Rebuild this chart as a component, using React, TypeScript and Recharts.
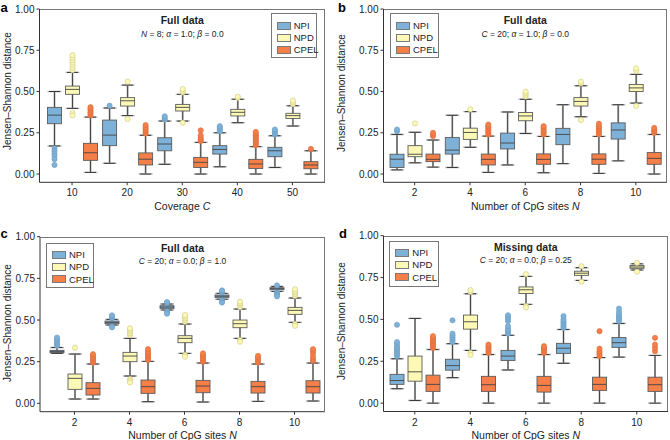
import React from "react";
import { ComposedChart, Bar, XAxis, YAxis } from "recharts";

const FONT = '"Liberation Sans", Arial, Helvetica, sans-serif';

// box stats: [whiskerLow, q1, median, q3, whiskerHigh]
const catsA = ["10", "20", "30", "40", "50"];
const catsN = ["2", "4", "6", "8", "10"];
const yTicks = [0, 0.25, 0.5, 0.75, 1];

// panel a: full data, N = 8
const aNpi = [
  [0.17, 0.305, 0.357, 0.404, 0.5],
  [0.065, 0.172, 0.236, 0.327, 0.4],
  [0.059, 0.141, 0.182, 0.22, 0.321],
  [0.044, 0.121, 0.149, 0.172, 0.25],
  [0.04, 0.105, 0.141, 0.162, 0.232],
];
const aNpiOut = [
  [0.155, 0.14, 0.125, 0.11, 0.09, 0.055],
  [0.414],
  [0.33, 0.34, 0.35],
  [0.26, 0.27, 0.28, 0.29],
  [0.24, 0.25, 0.26, 0.27],
];
const aNpd = [
  [0.398, 0.483, 0.513, 0.533, 0.616],
  [0.354, 0.412, 0.444, 0.463, 0.539],
  [0.321, 0.382, 0.404, 0.422, 0.483],
  [0.311, 0.352, 0.374, 0.392, 0.453],
  [0.291, 0.337, 0.354, 0.368, 0.414],
];
const aNpdOut = [
  [0.63, 0.645, 0.66, 0.675, 0.69, 0.705, 0.72, 0.37, 0.355],
  [0.56, 0.333],
  [0.495, 0.505, 0.515, 0.311],
  [0.462, 0.468],
  [0.425, 0.435, 0.445],
];
const aCpel = [
  [0.01, 0.083, 0.129, 0.186, 0.345],
  [0.0, 0.055, 0.09, 0.128, 0.235],
  [0.0, 0.04, 0.071, 0.101, 0.192],
  [0.0, 0.034, 0.061, 0.089, 0.166],
  [0.0, 0.032, 0.055, 0.075, 0.141],
];
const aCpelOut = [
  [0.355, 0.365, 0.375, 0.385, 0.395, 0.405],
  [0.245, 0.255, 0.265, 0.275, 0.285, 0.297],
  [0.2, 0.21, 0.22, 0.235, 0.265],
  [0.175, 0.185, 0.195, 0.205, 0.215, 0.225, 0.235, 0.245, 0.255],
  [0.152],
];

// panel b: full data, C = 20, alpha 1, beta 0
const bNpi = [
  [0.025, 0.04, 0.09, 0.12, 0.24],
  [0.04, 0.121, 0.145, 0.222, 0.356],
  [0.055, 0.152, 0.188, 0.248, 0.376],
  [0.063, 0.178, 0.24, 0.277, 0.42],
  [0.08, 0.212, 0.267, 0.31, 0.42],
];
const bNpiOut = [[0.26, 0.27], [], [], [], []];
const bNpd = [
  [0.068, 0.105, 0.12, 0.172, 0.253],
  [0.162, 0.21, 0.252, 0.278, 0.378],
  [0.246, 0.323, 0.352, 0.373, 0.453],
  [0.347, 0.412, 0.44, 0.463, 0.535],
  [0.43, 0.5, 0.522, 0.543, 0.604],
];
const bNpdOut = [
  [0.307],
  [0.392],
  [0.47, 0.48, 0.49, 0.5],
  [0.55, 0.56, 0.327],
  [0.625, 0.64, 0.413],
];
const bCpel = [
  [0.042, 0.075, 0.089, 0.121, 0.206],
  [0.01, 0.055, 0.089, 0.121, 0.23],
  [0.008, 0.059, 0.089, 0.122, 0.228],
  [0.004, 0.059, 0.09, 0.122, 0.228],
  [0.0, 0.059, 0.095, 0.13, 0.24],
];
const bCpelOut = [
  [0.23, 0.24, 0.25],
  [0.24, 0.25, 0.26, 0.27, 0.28, 0.29, 0.3],
  [0.24, 0.25, 0.26, 0.27, 0.28, 0.29],
  [0.24, 0.25, 0.26, 0.27, 0.28, 0.29, 0.305],
  [0.25, 0.26, 0.27, 0.28],
];

// panel c: full data, C = 20, alpha 0, beta 1
const cNpi = [
  [0.3, 0.305, 0.312, 0.318, 0.335],
  [0.47, 0.478, 0.486, 0.494, 0.504],
  [0.56, 0.57, 0.578, 0.586, 0.596],
  [0.625, 0.636, 0.643, 0.65, 0.66],
  [0.672, 0.682, 0.688, 0.694, 0.702],
];
const cNpiOut = [
  [0.345, 0.355, 0.365, 0.375, 0.385, 0.395],
  [0.512, 0.52, 0.528, 0.462, 0.456],
  [0.602, 0.608, 0.552, 0.545, 0.538],
  [0.666, 0.672, 0.678, 0.618, 0.612, 0.605],
  [0.708, 0.665, 0.658, 0.65, 0.642],
];
const cNpd = [
  [0.026, 0.084, 0.15, 0.176, 0.296],
  [0.164, 0.25, 0.284, 0.306, 0.39],
  [0.3, 0.364, 0.39, 0.406, 0.476],
  [0.39, 0.454, 0.478, 0.5, 0.566],
  [0.486, 0.534, 0.558, 0.576, 0.632],
];
const cNpdOut = [
  [0.334],
  [0.41, 0.42, 0.43, 0.44, 0.45, 0.145, 0.135, 0.125],
  [0.49, 0.5, 0.51, 0.52, 0.53, 0.29, 0.28],
  [0.578, 0.59, 0.6, 0.61, 0.38, 0.37],
  [0.645, 0.655, 0.665, 0.675, 0.685, 0.475, 0.465],
];
const cCpel = [
  [0.026, 0.05, 0.09, 0.124, 0.236],
  [0.01, 0.06, 0.1, 0.14, 0.252],
  [0.008, 0.064, 0.104, 0.138, 0.242],
  [0.012, 0.062, 0.1, 0.132, 0.236],
  [0.014, 0.062, 0.1, 0.136, 0.242],
];
const cCpelOut = [
  [0.245, 0.255, 0.265, 0.275, 0.285, 0.295],
  [0.26, 0.27, 0.28, 0.29, 0.3, 0.31, 0.325],
  [0.25, 0.26, 0.27, 0.28, 0.29, 0.3],
  [0.245, 0.255, 0.265, 0.275, 0.285],
  [0.255, 0.265, 0.28, 0.3, 0.315, 0.325],
];

// panel d: missing data, C = 20, alpha 0, beta 0.25
const dNpi = [
  [0.086, 0.112, 0.135, 0.172, 0.265],
  [0.152, 0.197, 0.224, 0.262, 0.355],
  [0.198, 0.255, 0.281, 0.315, 0.405],
  [0.238, 0.297, 0.328, 0.357, 0.44],
  [0.275, 0.333, 0.361, 0.392, 0.476],
];
const dNpiOut = [
  [0.28, 0.29, 0.3, 0.31, 0.32, 0.33, 0.34, 0.355, 0.365, 0.468],
  [0.365, 0.375, 0.385, 0.395, 0.405, 0.415, 0.495],
  [0.415, 0.425, 0.435, 0.445, 0.46, 0.49, 0.505, 0.515, 0.525],
  [0.45, 0.46, 0.47, 0.48, 0.49, 0.5, 0.52],
  [0.49, 0.5, 0.51, 0.52, 0.53, 0.545, 0.565],
];
const dNpd = [
  [0.016, 0.131, 0.187, 0.281, 0.506],
  [0.315, 0.442, 0.486, 0.526, 0.653],
  [0.59, 0.655, 0.677, 0.694, 0.757],
  [0.733, 0.763, 0.776, 0.788, 0.809],
  [0.795, 0.805, 0.813, 0.822, 0.832],
];
const dNpdOut = [[], [0.665, 0.675, 0.3, 0.288], [0.77, 0.58, 0.572], [0.818, 0.725], [0.838, 0.785]];
const dCpel = [
  [0.0, 0.07, 0.112, 0.167, 0.32],
  [0.0, 0.07, 0.11, 0.16, 0.29],
  [0.0, 0.066, 0.106, 0.16, 0.29],
  [0.0, 0.076, 0.112, 0.155, 0.272],
  [0.0, 0.07, 0.11, 0.155, 0.285],
];
const dCpelOut = [
  [0.33, 0.34, 0.35, 0.36, 0.37, 0.38, 0.39, 0.4],
  [0.3, 0.31, 0.32, 0.33, 0.34, 0.35],
  [0.3, 0.31, 0.32, 0.33, 0.34],
  [0.28, 0.29, 0.3, 0.31, 0.325, 0.43],
  [0.31, 0.33, 0.35, 0.39],
];

const SERIES = [
  { key: "NPI", fill: "#7db1d7", dotStroke: "#6b9ec4" },
  { key: "NPD", fill: "#fcf9b6", dotStroke: "#cdc87e" },
  { key: "CPEL", fill: "#f57f49", dotStroke: "#dc6a38" },
];

function boxShape(key: string, fill: string, dotStroke: string, rows: any[]) {
  return (p: any) => {
    const row = p.payload && p.payload[key + "_box"] ? p.payload : rows[p.index];
    const [lo, q1, med, q3, hi] = row[key + "_box"];
    const out: number[] = row[key + "_out"] || [];
    const top = Math.min(p.y, p.y + p.height);
    const h = Math.abs(p.height);
    const py = (v: number) => top + (h * (hi - v)) / (hi - lo);
    const x0 = p.x;
    const w = p.width;
    const cx = x0 + w / 2;
    return (
      <g>
        <line x1={cx} x2={cx} y1={py(hi)} y2={py(lo)} stroke="#b4b4b4" strokeWidth={2} />
        <line x1={cx} x2={cx} y1={py(hi)} y2={py(lo)} stroke="#3a3a3a" strokeWidth={0.9} />
        <line x1={x0} x2={x0 + w} y1={py(hi)} y2={py(hi)} stroke="#b4b4b4" strokeWidth={1.4} />
        <line x1={x0} x2={x0 + w} y1={py(lo)} y2={py(lo)} stroke="#b4b4b4" strokeWidth={1.4} />
        <line x1={cx - 5.5} x2={cx + 5.5} y1={py(hi)} y2={py(hi)} stroke="#333" strokeWidth={1} />
        <line x1={cx - 5.5} x2={cx + 5.5} y1={py(lo)} y2={py(lo)} stroke="#333" strokeWidth={1} />
        <rect x={x0} y={py(q3)} width={w} height={Math.max(py(q1) - py(q3), 0.5)} fill={fill} stroke="#5c5c5c" strokeWidth={0.9} />
        <line x1={x0} x2={x0 + w} y1={py(med)} y2={py(med)} stroke="#444" strokeWidth={0.9} />
        {out.map((v, i) => (
          <circle key={i} cx={cx} cy={py(v)} r={2.6} fill={fill} stroke={dotStroke} strokeWidth={0.6} />
        ))}
      </g>
    );
  };
}

interface PanelProps {
  left: number;
  top: number;
  plot: { l: number; t: number; r: number; b: number };
  padX: { left: number; right: number };
  cats: string[];
  stats: number[][][];
  outs: number[][][];
  letter: string;
  title: string;
  subtitle: React.ReactNode;
  xLabel: React.ReactNode;
  legend: { l: number; t: number; w: number; h: number };
  yLabelPos: { x: number; y: number };
  letterPos: { x: number; y: number };
}

function Panel(props: PanelProps) {
  const { left, top, plot, padX, cats, stats, outs } = props;
  const W = 335;
  const H = 220;
  const rows = cats.map((c, i) => {
    const row: any = { cat: c };
    SERIES.forEach((s, j) => {
      row[s.key] = [stats[j][i][0], stats[j][i][4]];
      row[s.key + "_box"] = stats[j][i];
      row[s.key + "_out"] = outs[j][i];
    });
    return row;
  });
  const cx = (plot.l + plot.r) / 2;
  const abs = (x: number, y: number): React.CSSProperties => ({
    position: "absolute",
    left: x,
    top: y,
    transform: "translate(-50%, -50%)",
    whiteSpace: "nowrap",
    lineHeight: 1,
    fontFamily: FONT,
    color: "#222",
  });

  return (
    <>
      <div style={{ position: "absolute", left, top, width: W, height: H }}>
        <ComposedChart
          width={W}
          height={H}
          data={rows}
          barSize={14}
          barGap={4}
          margin={{ top: plot.t - top, right: left + W - plot.r, left: 0, bottom: 0 }}
        >
          <XAxis
            dataKey="cat"
            height={top + H - plot.b}
            padding={padX}
            tick={{ fontSize: 10, fill: "#222", fontFamily: FONT }}
            tickSize={3}
            tickMargin={4}
            axisLine={{ stroke: "#333" }}
            tickLine={{ stroke: "#333" }}
          />
          <YAxis
            type="number"
            domain={[-0.05, 1]}
            allowDataOverflow
            ticks={yTicks}
            interval={0}
            width={plot.l - left}
            tickFormatter={(v: number) => v.toFixed(2)}
            tick={{ fontSize: 10, fill: "#222", fontFamily: FONT }}
            tickSize={3}
            tickMargin={2}
            axisLine={{ stroke: "#333" }}
            tickLine={{ stroke: "#333" }}
          />
          {SERIES.map((s) => (
            <Bar
              key={s.key}
              dataKey={s.key}
              isAnimationActive={false}
              shape={boxShape(s.key, s.fill, s.dotStroke, rows)}
            />
          ))}
        </ComposedChart>
      </div>

      {/* top/right frame */}
      <div
        style={{
          position: "absolute",
          left: plot.l,
          top: plot.t,
          width: plot.r - plot.l,
          height: plot.b - plot.t,
          borderTop: "1px solid #777",
          borderRight: "1px solid #777",
          boxSizing: "border-box",
          pointerEvents: "none",
        }}
      />

      <div style={{ ...abs(cx, plot.t + 11), fontSize: 10.5, fontWeight: "bold" }}>{props.title}</div>
      <div style={{ ...abs(cx, plot.t + 24.5), fontSize: 8.5 }}>{props.subtitle}</div>
      <div style={{ ...abs(cx, plot.b + 23.3), fontSize: 10.5 }}>{props.xLabel}</div>
      <div style={{ ...abs(props.yLabelPos.x, props.yLabelPos.y), fontSize: 10, transform: "translate(-50%, -50%) rotate(-90deg)" }}>
        Jensen–Shannon distance
      </div>
      <div style={{ ...abs(props.letterPos.x, props.letterPos.y), fontSize: 13, fontWeight: "bold", color: "#000" }}>
        {props.letter}
      </div>

      {/* legend */}
      <div
        style={{
          position: "absolute",
          left: props.legend.l,
          top: props.legend.t,
          width: props.legend.w,
          height: props.legend.h,
          border: "1px solid #777",
          boxSizing: "border-box",
          background: "#fff",
        }}
      >
        {SERIES.map((s, i) => (
          <div key={s.key} style={{ position: "absolute", left: 5, top: 7.3 + i * 12.2, height: 8, display: "flex", alignItems: "center" }}>
            <div style={{ width: 14, height: 8, background: s.fill, border: "0.8px solid #7a7a7a", boxSizing: "border-box" }} />
            <span style={{ marginLeft: 3, fontSize: 9.5, fontFamily: FONT, color: "#222", lineHeight: 1 }}>{s.key}</span>
          </div>
        ))}
      </div>
    </>
  );
}

export default function App() {
  return (
    <div style={{ position: "absolute", left: 0, top: 0, width: 670, height: 440, background: "#fff", overflow: "hidden" }}>
      <Panel
        left={0}
        top={0}
        plot={{ l: 39.5, t: 9, r: 325, b: 182.3 }}
        padX={{ left: 5, right: 5 }}
        cats={catsA}
        stats={[aNpi, aNpd, aCpel]}
        outs={[aNpiOut, aNpdOut, aCpelOut]}
        letter="a"
        title="Full data"
        subtitle={<><i>N</i> = 8; <i>α</i> = 1.0; <i>β</i> = 0.0</>}
        xLabel={<>Coverage <i>C</i></>}
        legend={{ l: 270.7, t: 13.3, w: 46.5, h: 45 }}
        yLabelPos={{ x: 7.5, y: 91 }}
        letterPos={{ x: 4, y: 7 }}
      />
      <Panel
        left={335}
        top={0}
        plot={{ l: 383.5, t: 9, r: 667, b: 182.3 }}
        padX={{ left: 3.5, right: 3.5 }}
        cats={catsN}
        stats={[bNpi, bNpd, bCpel]}
        outs={[bNpiOut, bNpdOut, bCpelOut]}
        letter="b"
        title="Full data"
        subtitle={<><i>C</i> = 20; <i>α</i> = 1.0; <i>β</i> = 0.0</>}
        xLabel={<>Number of CpG sites <i>N</i></>}
        legend={{ l: 390, t: 13.3, w: 49, h: 45 }}
        yLabelPos={{ x: 342, y: 93 }}
        letterPos={{ x: 342, y: 7 }}
      />
      <Panel
        left={0}
        top={220}
        plot={{ l: 40, t: 236.7, r: 325, b: 411.7 }}
        padX={{ left: 7, right: 3 }}
        cats={catsN}
        stats={[cNpi, cNpd, cCpel]}
        outs={[cNpiOut, cNpdOut, cCpelOut]}
        letter="c"
        title="Full data"
        subtitle={<><i>C</i> = 20; <i>α</i> = 0.0; <i>β</i> = 1.0</>}
        xLabel={<>Number of CpG sites <i>N</i></>}
        legend={{ l: 46, t: 242.7, w: 48, h: 45.5 }}
        yLabelPos={{ x: 8, y: 322.5 }}
        letterPos={{ x: 4, y: 233 }}
      />
      <Panel
        left={335}
        top={220}
        plot={{ l: 383.5, t: 235.7, r: 668, b: 411.5 }}
        padX={{ left: 3.5, right: 3.5 }}
        cats={catsN}
        stats={[dNpi, dNpd, dCpel]}
        outs={[dNpiOut, dNpdOut, dCpelOut]}
        letter="d"
        title="Missing data"
        subtitle={<><i>C</i> = 20; <i>α</i> = 0.0; <i>β</i> = 0.25</>}
        xLabel={<>Number of CpG sites <i>N</i></>}
        legend={{ l: 389.3, t: 240.7, w: 49.7, h: 46 }}
        yLabelPos={{ x: 342, y: 321 }}
        letterPos={{ x: 343, y: 233 }}
      />
    </div>
  );
}
